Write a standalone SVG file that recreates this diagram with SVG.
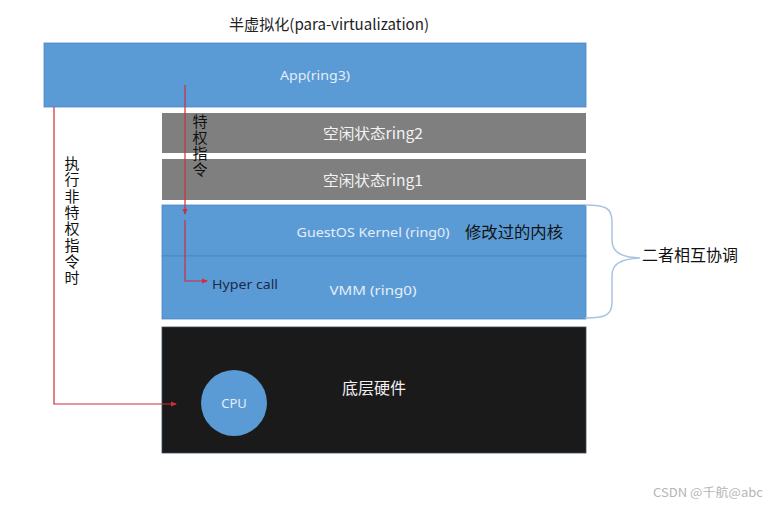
<svg xmlns="http://www.w3.org/2000/svg" width="777" height="505" viewBox="0 0 777 505">
<defs>
<style>
.cjk{font-family:"Noto Sans CJK SC","Noto Sans",sans-serif}
.lat{font-family:"Noto Sans","Liberation Sans",sans-serif}
.blue{fill:#5b9bd5}
.gray{fill:#7f7f7f}
.lt{fill:#e4edf8}
.wire{fill:none;stroke:#cf2d3a;stroke-width:1.2}
.vert{writing-mode:vertical-rl;text-orientation:upright}
</style>
<marker id="ah" viewBox="0 0 6 6" refX="5" refY="3" markerWidth="6" markerHeight="6" orient="auto" markerUnits="userSpaceOnUse">
<path d="M0,0.5 L6,3 L0,5.5 Z" fill="#cf2d3a"/>
</marker>
</defs>
<rect width="777" height="505" fill="#ffffff"/>
<text class="cjk" x="329" y="30" font-size="15" text-anchor="middle" fill="#222" textLength="200" lengthAdjust="spacingAndGlyphs">半虚拟化(para-virtualization)</text>

<g id="app">
<rect class="blue" x="44" y="43" width="542" height="64" stroke="#4a86c0" stroke-width="0.8"/>
<text class="lat lt" x="315" y="80" font-size="13" text-anchor="middle" textLength="70" lengthAdjust="spacingAndGlyphs">App(ring3)</text>
</g>
<g id="ring2">
<rect class="gray" x="162" y="113" width="424" height="40"/>
<text class="cjk" x="373" y="139" font-size="15" text-anchor="middle" fill="#f2f2f2" textLength="100" lengthAdjust="spacingAndGlyphs">空闲状态ring2</text>
</g>
<g id="ring1">
<rect class="gray" x="162" y="159" width="424" height="41"/>
<text class="cjk" x="373" y="186" font-size="15" text-anchor="middle" fill="#f2f2f2" textLength="100" lengthAdjust="spacingAndGlyphs">空闲状态ring1</text>
</g>
<g id="guestos">
<rect class="blue" x="162" y="205" width="424" height="51" stroke="#4a86c0" stroke-width="0.8"/>
<text class="lat lt" x="373" y="237" font-size="13" text-anchor="middle" textLength="153" lengthAdjust="spacingAndGlyphs">GuestOS Kernel (ring0)</text>
<text class="cjk" x="465" y="238" font-size="16" fill="#111" textLength="98" lengthAdjust="spacingAndGlyphs">修改过的内核</text>
</g>
<g id="vmm">
<rect class="blue" x="162" y="256" width="424" height="63" stroke="#4a86c0" stroke-width="0.8"/>
<text class="lat lt" x="373" y="295" font-size="13" text-anchor="middle" textLength="87" lengthAdjust="spacingAndGlyphs">VMM (ring0)</text>
<text class="lat" x="212" y="289" font-size="13" fill="#1c2a4a" textLength="66" lengthAdjust="spacingAndGlyphs">Hyper call</text>
</g>
<g id="hardware">
<rect x="162" y="327" width="424" height="126" fill="#1a1a1a" stroke="#3a4a5a" stroke-width="0.8"/>
<text class="cjk" x="374" y="394" font-size="16" text-anchor="middle" fill="#f0f0f0" textLength="64" lengthAdjust="spacingAndGlyphs">底层硬件</text>
</g>
<g id="cpu">
<circle class="blue" cx="234" cy="403" r="33"/>
<text class="lat lt" x="234" y="408" font-size="13" text-anchor="middle">CPU</text>
</g>
<g id="coord">
<path d="M585,205 C606,205 612,208 612,222 L612,240 C612,252 620,257 640,258 C620,259 612,264 612,276 L612,302 C612,315 606,318 585,318" fill="none" stroke="#a9c4e0" stroke-width="1.5"/>
<text class="cjk" x="642" y="261" font-size="16" fill="#111" textLength="96" lengthAdjust="spacingAndGlyphs">二者相互协调</text>
</g>

<g id="connectors">
<path class="wire" d="M54,107 L54,404 L176,404" marker-end="url(#ah)"/>
<path class="wire" d="M185,85 L185,214" marker-end="url(#ah)"/>
<path class="wire" d="M185,220 L185,281 L207,281" marker-end="url(#ah)"/>
</g>

<g id="labels">
<text class="cjk vert" x="200" y="114" font-size="15" fill="#111" letter-spacing="1">特权指令</text>
<text class="cjk vert" x="72" y="156" font-size="15" fill="#111" letter-spacing="1.3">执行非特权指令时</text>
</g>
<text class="cjk" x="653" y="497" font-size="12" fill="#b5b5b5" textLength="110" lengthAdjust="spacingAndGlyphs">CSDN @千航@abc</text>
</svg>
